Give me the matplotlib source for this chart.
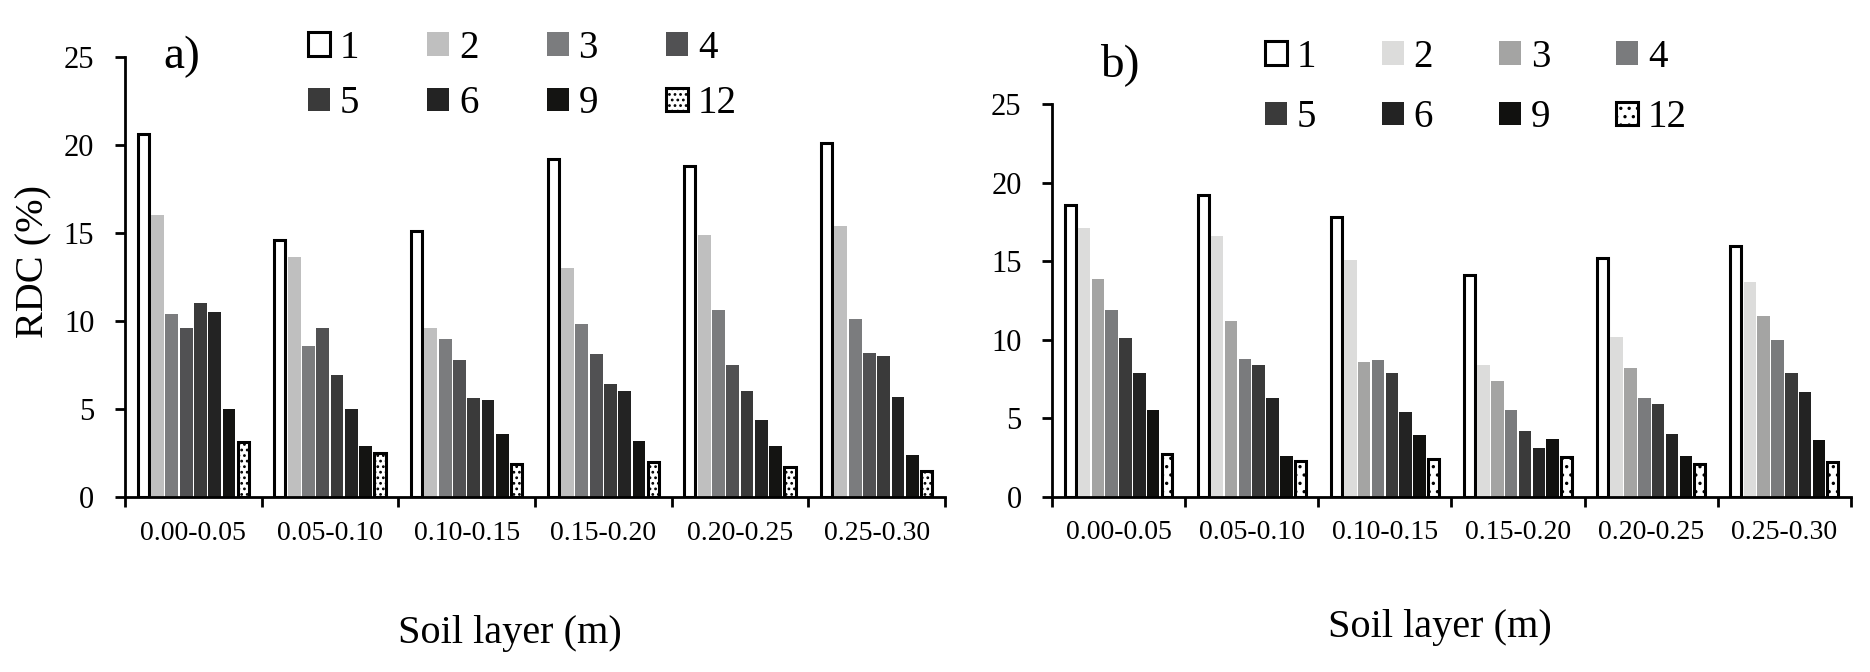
import numpy as np
import matplotlib
matplotlib.use("Agg")
import matplotlib.pyplot as plt

plt.rcParams['font.family'] = ['Liberation Serif', 'DejaVu Serif']
plt.rcParams['hatch.linewidth'] = 1.2

layers = ['0.00-0.05', '0.05-0.10', '0.10-0.15', '0.15-0.20', '0.20-0.25', '0.25-0.30']
series = ['1', '2', '3', '4', '5', '6', '9', '12']

# RDC (%) per series (rows) and soil layer (columns)
rdc_a = [
    [20.6, 14.6, 15.1, 19.2, 18.8, 20.1],
    [16.0, 13.6, 9.6, 13.0, 14.9, 15.4],
    [10.4, 8.6, 9.0, 9.8, 10.6, 10.1],
    [9.6, 9.6, 7.8, 8.1, 7.5, 8.2],
    [11.0, 6.9, 5.6, 6.4, 6.0, 8.0],
    [10.5, 5.0, 5.5, 6.0, 4.4, 5.7],
    [5.0, 2.9, 3.6, 3.2, 2.9, 2.4],
    [3.1, 2.5, 1.9, 2.0, 1.7, 1.5],
]
rdc_b = [
    [18.6, 19.2, 17.8, 14.1, 15.2, 16.0],
    [17.1, 16.6, 15.1, 8.4, 10.2, 13.7],
    [13.9, 11.2, 8.6, 7.4, 8.2, 11.5],
    [11.9, 8.8, 8.7, 5.5, 6.3, 10.0],
    [10.1, 8.4, 7.9, 4.2, 5.9, 7.9],
    [7.9, 6.3, 5.4, 3.1, 4.0, 6.7],
    [5.5, 2.6, 3.9, 3.7, 2.6, 3.6],
    [2.7, 2.3, 2.4, 2.5, 2.1, 2.2],
]

colors_a = ['white', '#bfbfbf', '#7b7c7e', '#515153', '#3a3a3a', '#232323', '#141412', 'white']
colors_b = ['white', '#dcdcdb', '#a4a4a3', '#7a7b7d', '#3a3a3a', '#232323', '#11110f', 'white']


def draw_panel(ax, data, colors, hatch12, pitch):
    x = np.arange(len(layers))
    handles = []
    for k, vals in enumerate(data):
        pos = x + (k - 3.5) * pitch
        if k == 0:
            b = ax.bar(pos, vals, width=pitch * 0.78, color='white', edgecolor='black', linewidth=2.2)
        elif k == 7:
            b = ax.bar(pos, vals, width=pitch * 0.78, color='white', edgecolor='black',
                       linewidth=2.2, hatch=hatch12)
        else:
            b = ax.bar(pos, vals, width=pitch * 0.9, color=colors[k], linewidth=0)
        handles.append(b)
    ax.set_xlim(-0.5, 5.5)
    ax.set_ylim(0, 25)
    ax.set_yticks(np.arange(0, 26, 5))
    ax.set_xticks(np.arange(-0.5, 6, 1))
    ax.set_xticklabels([])
    ax.set_xticks(x, minor=True)
    ax.set_xticklabels(layers, minor=True, fontsize=20)
    ax.tick_params(axis='x', which='major', direction='out', length=7, width=2)
    ax.tick_params(axis='x', which='minor', length=0, pad=17)
    ax.tick_params(axis='y', direction='out', length=7, width=2, labelsize=22, pad=15)
    for s in ['top', 'right']:
        ax.spines[s].set_visible(False)
    for s in ['left', 'bottom']:
        ax.spines[s].set_linewidth(2)
    return handles


fig = plt.figure(figsize=(18.7, 6.72), dpi=100)
ax_a = fig.add_axes([0.0668, 0.2604, 0.4385, 0.6552])
ax_b = fig.add_axes([0.5626, 0.2609, 0.4272, 0.5839])

h_a = draw_panel(ax_a, rdc_a, colors_a, '...', 0.1046)
h_b = draw_panel(ax_b, rdc_b, colors_b, '..', 0.104)

# legend rows: 1 2 3 4 / 5 6 9 12 (matplotlib fills column by column)
order = [0, 4, 1, 5, 2, 6, 3, 7]
ax_a.legend([h_a[i] for i in order], [series[i] for i in order], ncol=4, frameon=False,
            fontsize=28, handlelength=0.56, handleheight=0.56, handletextpad=0.25,
            columnspacing=1.76, labelspacing=0.48, borderpad=0, borderaxespad=0,
            loc='upper left', bbox_to_anchor=(0.1647, 0.956), bbox_transform=fig.transFigure)
ax_b.legend([h_b[i] for i in order], [series[i] for i in order], ncol=4, frameon=False,
            fontsize=28, handlelength=0.56, handleheight=0.56, handletextpad=0.25,
            columnspacing=1.7, labelspacing=0.6, borderpad=0, borderaxespad=0,
            loc='upper left', bbox_to_anchor=(0.6765, 0.942), bbox_transform=fig.transFigure)

ax_a.set_ylabel('RDC (%)', fontsize=29)
ax_a.yaxis.set_label_coords(-0.089, 0.534)
fig.text(0.0875, 0.915, 'a)', fontsize=34, va='center', ha='left')
fig.text(0.588, 0.904, 'b)', fontsize=34, va='center', ha='left')
fig.text(0.2726, 0.058, 'Soil layer (m)', fontsize=29, ha='center', va='center')
fig.text(0.77, 0.066, 'Soil layer (m)', fontsize=29, ha='center', va='center')

fig.savefig('out.png', dpi=100, facecolor='white')
